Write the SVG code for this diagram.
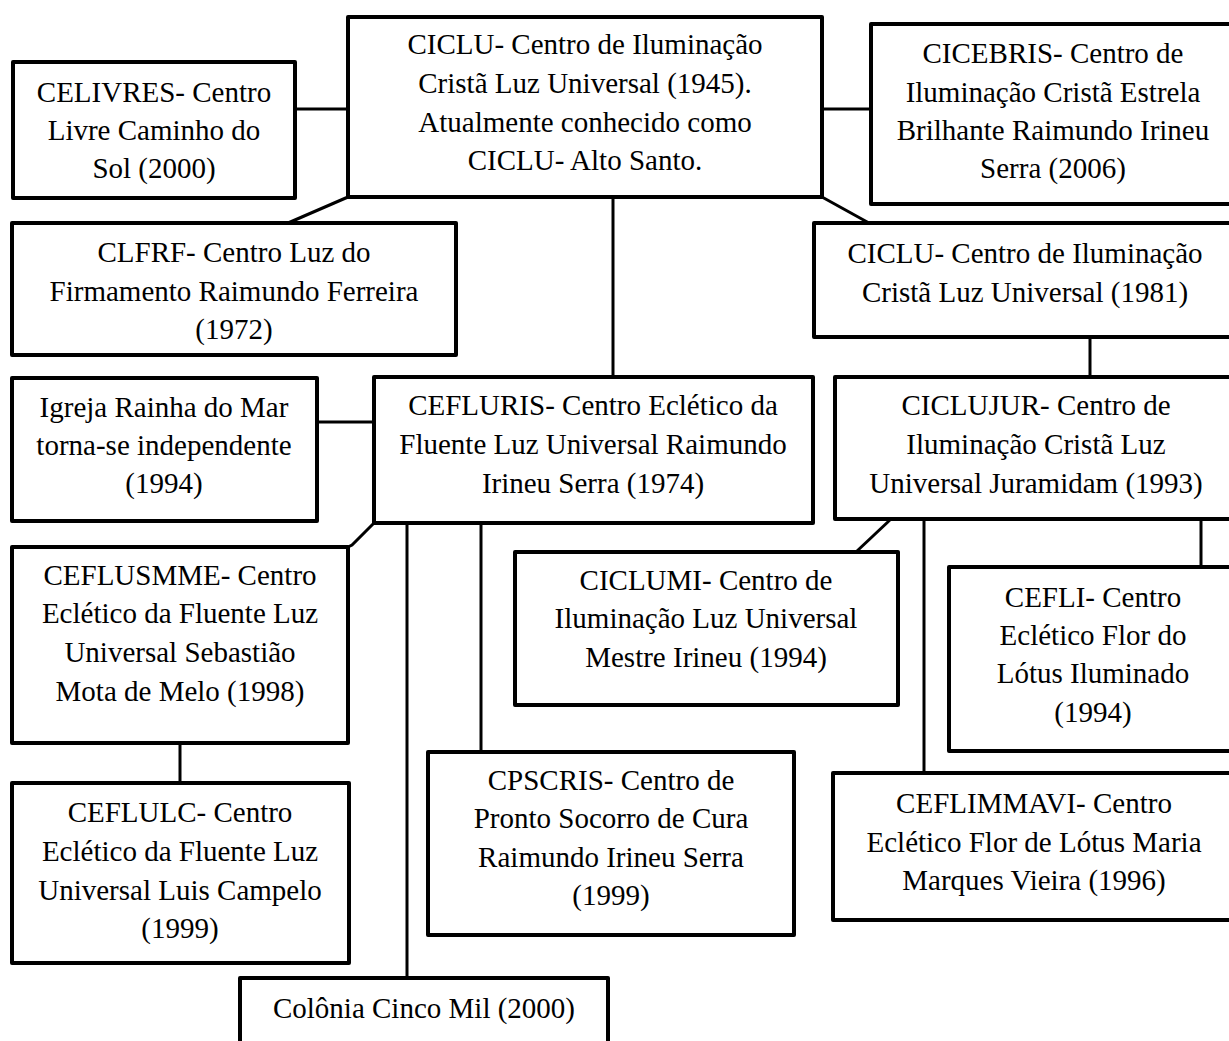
<svg xmlns="http://www.w3.org/2000/svg" width="1229" height="1041" viewBox="0 0 1229 1041">
<style>
.box{fill:#fff;stroke:#000;stroke-width:4;stroke-linejoin:round}
.con{stroke:#000;stroke-width:3;fill:none}
text{font-family:"Liberation Serif","Times New Roman",serif;font-size:29px;fill:#000;text-anchor:middle}
</style>
<rect width="1229" height="1041" fill="#fff"/>
<g id="connectors">
<line class="con" x1="295" y1="109" x2="348" y2="109"/>
<line class="con" x1="822" y1="109" x2="871" y2="109"/>
<line class="con" x1="348" y1="197" x2="288" y2="223"/>
<line class="con" x1="822" y1="197" x2="869" y2="223"/>
<line class="con" x1="613" y1="197" x2="613" y2="377"/>
<line class="con" x1="1090" y1="337" x2="1090" y2="377"/>
<line class="con" x1="317" y1="422" x2="374" y2="422"/>
<polyline class="con" points="374,523 352,545 348,547"/>
<line class="con" x1="407" y1="523" x2="407" y2="978"/>
<line class="con" x1="481" y1="523" x2="481" y2="752"/>
<line class="con" x1="180" y1="743" x2="180" y2="783"/>
<line class="con" x1="891" y1="519" x2="856" y2="552"/>
<line class="con" x1="924" y1="519" x2="924" y2="773"/>
<line class="con" x1="1201" y1="519" x2="1201" y2="567"/>
</g>
<g id="celivres"><rect class="box" x="13" y="62" width="282" height="136"/>
<text x="154" y="102">CELIVRES- Centro</text><text x="154" y="140">Livre Caminho do</text><text x="154" y="178">Sol (2000)</text></g>
<g id="ciclu"><rect class="box" x="348" y="17" width="474" height="180"/>
<text x="585" y="54">CICLU- Centro de Iluminação</text><text x="585" y="93">Cristã Luz Universal (1945).</text><text x="585" y="132">Atualmente conhecido como</text><text x="585" y="170">CICLU- Alto Santo.</text></g>
<g id="cicebris"><rect class="box" x="871" y="24" width="365" height="180"/>
<text x="1053" y="63">CICEBRIS- Centro de</text><text x="1053" y="102">Iluminação Cristã Estrela</text><text x="1053" y="140">Brilhante Raimundo Irineu</text><text x="1053" y="178">Serra (2006)</text></g>
<g id="clfrf"><rect class="box" x="12" y="223" width="444" height="132"/>
<text x="234" y="262">CLFRF- Centro Luz do</text><text x="234" y="301">Firmamento Raimundo Ferreira</text><text x="234" y="339">(1972)</text></g>
<g id="ciclu1981"><rect class="box" x="814" y="223" width="422" height="114"/>
<text x="1025" y="263">CICLU- Centro de Iluminação</text><text x="1025" y="302">Cristã Luz Universal (1981)</text></g>
<g id="igreja"><rect class="box" x="12" y="378" width="305" height="143"/>
<text x="164" y="417">Igreja Rainha do Mar</text><text x="164" y="455">torna-se independente</text><text x="164" y="493">(1994)</text></g>
<g id="cefluris"><rect class="box" x="374" y="377" width="439" height="146"/>
<text x="593" y="415">CEFLURIS- Centro Eclético da</text><text x="593" y="454">Fluente Luz Universal Raimundo</text><text x="593" y="493">Irineu Serra (1974)</text></g>
<g id="baciclujur"><rect class="box" x="835" y="377" width="402" height="142"/>
<text x="1036" y="415">CICLUJUR- Centro de</text><text x="1036" y="454">Iluminação Cristã Luz</text><text x="1036" y="493">Universal Juramidam (1993)</text></g>
<g id="ceflusmme"><rect class="box" x="12" y="547" width="336" height="196"/>
<text x="180" y="585">CEFLUSMME- Centro</text><text x="180" y="623">Eclético da Fluente Luz</text><text x="180" y="662">Universal Sebastião</text><text x="180" y="701">Mota de Melo (1998)</text></g>
<g id="ciclumi"><rect class="box" x="515" y="552" width="383" height="153"/>
<text x="706" y="590">CICLUMI- Centro de</text><text x="706" y="628">Iluminação Luz Universal</text><text x="706" y="667">Mestre Irineu (1994)</text></g>
<g id="cefli"><rect class="box" x="949" y="567" width="288" height="184"/>
<text x="1093" y="607">CEFLI- Centro</text><text x="1093" y="645">Eclético Flor do</text><text x="1093" y="683">Lótus Iluminado</text><text x="1093" y="722">(1994)</text></g>
<g id="cpscris"><rect class="box" x="428" y="752" width="366" height="183"/>
<text x="611" y="790">CPSCRIS- Centro de</text><text x="611" y="828">Pronto Socorro de Cura</text><text x="611" y="867">Raimundo Irineu Serra</text><text x="611" y="905">(1999)</text></g>
<g id="ceflimmavi"><rect class="box" x="833" y="773" width="404" height="147"/>
<text x="1034" y="813">CEFLIMMAVI- Centro</text><text x="1034" y="852">Eclético Flor de Lótus Maria</text><text x="1034" y="890">Marques Vieira (1996)</text></g>
<g id="ceflulc"><rect class="box" x="12" y="783" width="337" height="180"/>
<text x="180" y="822">CEFLULC- Centro</text><text x="180" y="861">Eclético da Fluente Luz</text><text x="180" y="900">Universal Luis Campelo</text><text x="180" y="938">(1999)</text></g>
<g id="colonia"><rect class="box" x="240" y="978" width="368" height="80"/>
<text x="424" y="1018">Colônia Cinco Mil (2000)</text></g>
</svg>
